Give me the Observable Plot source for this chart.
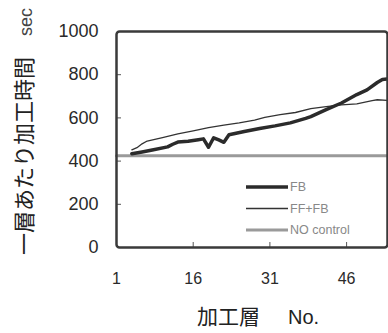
<!DOCTYPE html>
<html><head><meta charset="utf-8">
<script src="https://cdn.jsdelivr.net/npm/d3@7"></script>
<script src="https://cdn.jsdelivr.net/npm/@observablehq/plot@0.6"></script>
<style>
body{margin:0;background:#fff;}
#chart{position:relative;width:388px;height:333px;}
</style></head>
<body><div id="chart"></div>
<script>
// data
const fbLayer   = [4,6,8,11,12,13,15,17,18,19,20,21,22,23,26,29,32,35,38,39,42,45,48,50,52,53,54];
const fbValue   = [434,442,451,466,478,488,492,499,503,464,508,498,487,522,537,551,563,577,598,606,638,669,708,730,764,778,780];
const ffLayer   = [4,5,6,7,10,13,16,19,22,25,28,30,33,36,39,42,45,48,51,52,54];
const ffValue   = [452,462,480,493,509,526,540,555,567,577,590,602,615,625,643,652,660,665,680,684,681];
const noLayer   = [1,54];
const noValue   = [425,425];
const yTicks = [0,200,400,600,800,1000];
const yTickMarks = [200,400,600,800];
const xTicks = [1,16,31,46];
const xTickMarks = [16,31,46];
const seriesNames = ["FB","FF+FB","NO control"];

const fb = fbLayer.map((x,i)=>({x, y: fbValue[i]}));
const ff = ffLayer.map((x,i)=>({x, y: ffValue[i]}));
const nc = noLayer.map((x,i)=>({x, y: noValue[i]}));

const font = "'Liberation Sans', Arial, sans-serif";
const jp = "'Noto Sans CJK JP', sans-serif";

const plot = Plot.plot({
  width: 388, height: 333,
  marginLeft: 116, marginRight: 1, marginTop: 31, marginBottom: 86,
  style: {fontFamily: font, background: "#fff", color: "#2a2a2a"},
  x: {domain: [1, 54], label: null},
  y: {domain: [0, 1000], label: null},
  marks: [
    Plot.line(nc, {x: "x", y: "y", stroke: "#9a9a9a", strokeWidth: 3}),
    Plot.line(ff, {x: "x", y: "y", stroke: "#333", strokeWidth: 1.3, clip: true}),
    Plot.line(fb, {x: "x", y: "y", stroke: "#2b2b2b", strokeWidth: 3.5, clip: true}),
    Plot.axisY(yTicks, {tickSize: 0, tickPadding: 18, fontSize: 18, label: null, tickFormat: d => String(d)}),
    Plot.axisY(yTickMarks, {tickSize: 5, dx: 5, tickFormat: () => "", label: null, stroke: "#555"}),
    Plot.axisX(xTicks, {tickSize: 0, tickPadding: 25, fontSize: 16, label: null, tickFormat: d => String(d)}),
    Plot.axisX(xTickMarks, {tickSize: 5, dy: -5, tickFormat: () => "", label: null, stroke: "#555"}),
    Plot.frame({stroke: "#3a3a3a", strokeWidth: 2.5, rx: 3})
  ]
});
document.getElementById("chart").appendChild(plot);

const svg = d3.select(plot);
// legend
const leg = svg.append("g").attr("text-anchor", "start");
const legStyles = [
  {stroke: "#2b2b2b", w: 3.5},
  {stroke: "#333", w: 1.3},
  {stroke: "#9a9a9a", w: 3}
];
seriesNames.forEach((name, i) => {
  const y = 187 + i * 21.5;
  leg.append("line").attr("x1", 246).attr("x2", 288).attr("y1", y).attr("y2", y)
    .attr("stroke", legStyles[i].stroke).attr("stroke-width", legStyles[i].w);
  leg.append("text").attr("x", 290).attr("y", y).attr("dy", "0.35em")
    .attr("font-size", 12.5).attr("fill", "#888").attr("font-family", font).text(name);
});
const titles = svg.append("g").attr("text-anchor", "start").attr("fill", "#222");
// y-axis title
titles.append("text").attr("transform", "translate(32,255) rotate(-90)")
  .attr("font-family", jp).attr("font-size", 22).text("一層あたり加工時間");
titles.append("text").attr("transform", "translate(32,36) rotate(-90)")
  .attr("font-family", font).attr("font-size", 18).attr("fill", "#444").text("sec");
// x-axis title
titles.append("text").attr("x", 197).attr("y", 324)
  .attr("font-family", jp).attr("font-size", 21).text("加工層");
titles.append("text").attr("x", 288).attr("y", 324)
  .attr("font-family", font).attr("font-size", 20).text("No.");
</script>
</body></html>
